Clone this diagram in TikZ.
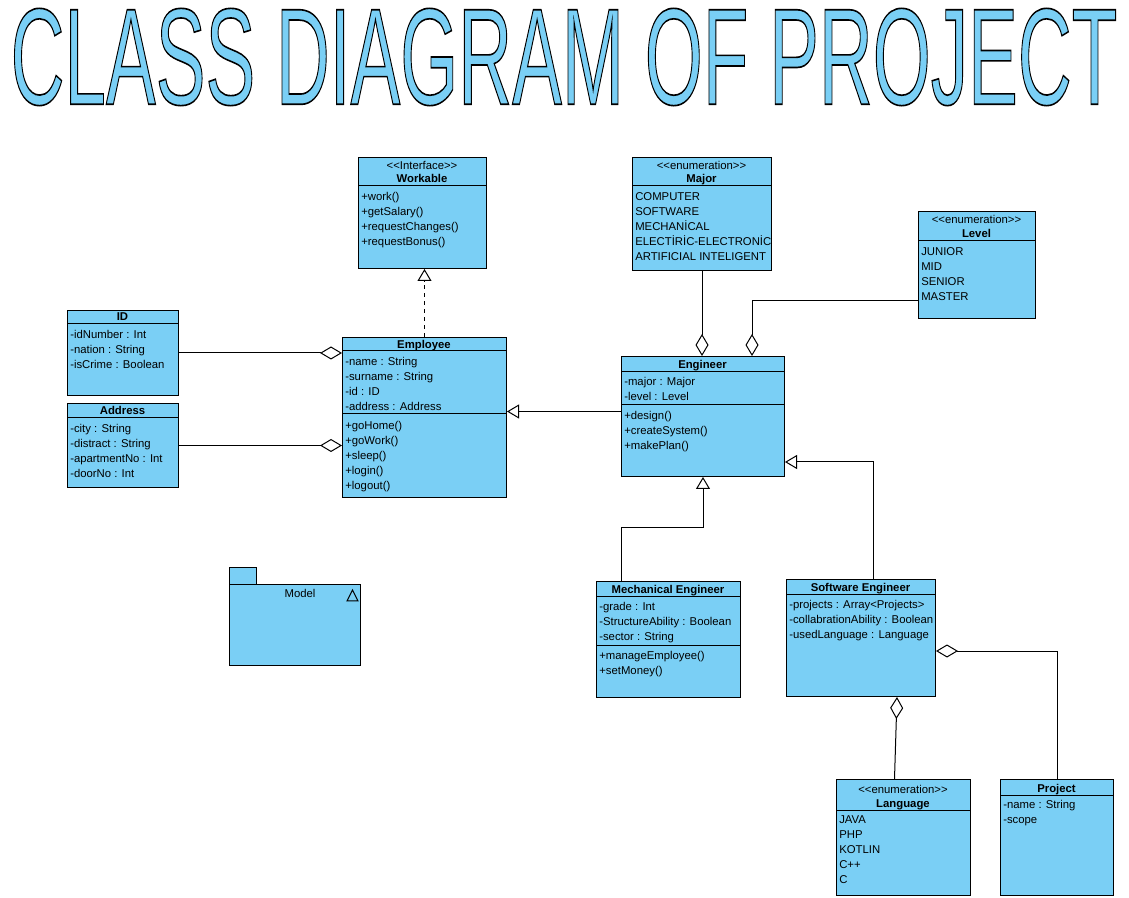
\documentclass[tikz,border=0pt]{standalone}
\usepackage{fontspec}
\setmainfont{Liberation Sans}
\usepackage{graphicx}
\usepackage{xcolor}
\definecolor{classblue}{HTML}{7ACFF5}
\usetikzlibrary{arrows.meta,positioning,calc}
% outlined letters for the big heading
\newcommand{\outlined}[1]{\special{pdf:literal direct 2 Tr 0 0 0 RG 0.9 w}#1\special{pdf:literal direct 0 Tr}}
% two angle brackets, kept apart so they do not turn into guillemets
\newcommand{\stl}{<\kern0pt<}
\newcommand{\str}{>\kern0pt>}

\begin{document}
\begin{tikzpicture}[x=0.75pt,y=-0.75pt,
  font=\fontsize{8.5}{11.25}\selectfont,
  umlbox/.style={draw,fill=classblue,line width=0.75pt,anchor=north west,inner sep=0pt},
  cname/.style={anchor=base,yshift=-0.75pt,font=\fontsize{8.5}{11.25}\selectfont\bfseries},
  stereo/.style={anchor=base,yshift=-1.5pt},
  members/.style={anchor=north west,yshift=-2.25pt,align=left,inner sep=0pt,execute at begin node=\strut},
  sep/.style={line width=0.75pt},
  aggr/.style={line width=0.75pt,-{Diamond[open,fill=white,length=16.5pt,width=9.75pt]}},
  gen/.style={line width=0.75pt,-{Triangle[open,fill=white,length=9pt,width=10.5pt]}},
  realize/.style={gen,dashed}]
  \useasboundingbox[fill=white] (0,0) rectangle (1129,898);

  % Heading
  \node[text=classblue,inner sep=0pt] (title) at (564,57)
    {\resizebox{830pt}{72pt}{\fontsize{75}{75}\selectfont\outlined{CLASS DIAGRAM OF PROJECT}}};

  % Workable
  \node[umlbox,minimum width=96pt,minimum height=83.25pt] (workable) at (358,157) {};
  \node[stereo] (workable-st) at (422,168) {\stl Interface\str};
  \node[cname] (workable-name) at (422,182) {Workable};
  \draw[sep] ($(workable.north west)+(0,29)$) -- ($(workable.north east)+(0,29)$);
  \node[members] (workable-ops) at (361,189.5) {+work()\\+getSalary()\\+requestChanges()\\+requestBonus()};

  % Major
  \node[umlbox,minimum width=104.25pt,minimum height=84.75pt] (major) at (632,157) {};
  \node[stereo] (major-st) at (701.5,168) {\stl enumeration\str};
  \node[cname] (major-name) at (701.5,182) {Major};
  \draw[sep] ($(major.north west)+(0,29)$) -- ($(major.north east)+(0,29)$);
  \node[members] (major-lits) at (635,189.5) {COMPUTER\\SOFTWARE\\MECHANİCAL\\ELECTİRİC-ELECTRONİC\\ARTIFICIAL INTELIGENT};

  % Level
  \node[umlbox,minimum width=87.75pt,minimum height=80.25pt] (level) at (918,211) {};
  \node[stereo] (level-st) at (976.5,222) {\stl enumeration\str};
  \node[cname] (level-name) at (976.5,237) {Level};
  \draw[sep] ($(level.north west)+(0,30)$) -- ($(level.north east)+(0,30)$);
  \node[members] (level-lits) at (921,244.5) {JUNIOR\\MID\\SENIOR\\MASTER};

  % ID
  \node[umlbox,minimum width=83.25pt,minimum height=63.75pt] (id) at (67,310) {};
  \node[cname] (id-name) at (122.5,320) {ID};
  \draw[sep] ($(id.north west)+(0,14)$) -- ($(id.north east)+(0,14)$);
  \node[members] (id-attrs) at (70,327.5) {-idNumber : Int\\-nation : String\\-isCrime : Boolean};

  % Address
  \node[umlbox,minimum width=83.25pt,minimum height=63pt] (address) at (67,403) {};
  \node[cname] (address-name) at (122.5,414) {Address};
  \draw[sep] ($(address.north west)+(0,15)$) -- ($(address.north east)+(0,15)$);
  \node[members] (address-attrs) at (70,421.5) {-city : String\\-distract : String\\-apartmentNo : Int\\-doorNo : Int};

  % Employee
  \node[umlbox,minimum width=123pt,minimum height=120pt] (employee) at (342,337) {};
  \node[cname] (employee-name) at (424,348) {Employee};
  \draw[sep] ($(employee.north west)+(0,14)$) -- ($(employee.north east)+(0,14)$);
  \node[members] (employee-attrs) at (345,354.5) {-name : String\\-surname : String\\-id : ID\\-address : Address};
  \draw[sep] ($(employee.north west)+(0,77)$) -- ($(employee.north east)+(0,77)$);
  \node[members] (employee-ops) at (345,418.5) {+goHome()\\+goWork()\\+sleep()\\+login()\\+logout()};

  % Engineer
  \node[umlbox,minimum width=122.25pt,minimum height=90pt] (engineer) at (621,356) {};
  \node[cname] (engineer-name) at (702.5,368) {Engineer};
  \draw[sep] ($(engineer.north west)+(0,16)$) -- ($(engineer.north east)+(0,16)$);
  \node[members] (engineer-attrs) at (624,374.5) {-major : Major\\-level : Level};
  \draw[sep] ($(engineer.north west)+(0,49)$) -- ($(engineer.north east)+(0,49)$);
  \node[members] (engineer-ops) at (624,408.5) {+design()\\+createSystem()\\+makePlan()};

  % Mechanical Engineer
  \node[umlbox,minimum width=108pt,minimum height=87pt] (mecheng) at (596,581) {};
  \node[cname] (mecheng-name) at (668,593) {Mechanical Engineer};
  \draw[sep] ($(mecheng.north west)+(0,16)$) -- ($(mecheng.north east)+(0,16)$);
  \node[members] (mecheng-attrs) at (599,599.5) {-grade : Int\\-StructureAbility : Boolean\\-sector : String};
  \draw[sep] ($(mecheng.north west)+(0,64)$) -- ($(mecheng.north east)+(0,64)$);
  \node[members] (mecheng-ops) at (599,648.5) {+manageEmployee()\\+setMoney()};

  % Software Engineer
  \node[umlbox,minimum width=111.75pt,minimum height=87.75pt] (softeng) at (786,579) {};
  \node[cname] (softeng-name) at (860.5,591) {Software Engineer};
  \draw[sep] ($(softeng.north west)+(0,16)$) -- ($(softeng.north east)+(0,16)$);
  \node[members] (softeng-attrs) at (789,597.5) {-projects : Array<Projects>\\-collabrationAbility : Boolean\\-usedLanguage : Language};

  % Language
  \node[umlbox,minimum width=100.5pt,minimum height=87pt] (language) at (836,779) {};
  \node[stereo] (language-st) at (903,791) {\stl enumeration\str};
  \node[cname] (language-name) at (903,806) {Language};
  \draw[sep] ($(language.north west)+(0,31)$) -- ($(language.north east)+(0,31)$);
  \node[members] (language-lits) at (839,812.5) {JAVA\\PHP\\KOTLIN\\C++\\C};

  % Project
  \node[umlbox,minimum width=84.75pt,minimum height=87pt] (project) at (1000,779) {};
  \node[cname] (project-name) at (1056.5,791) {Project};
  \draw[sep] ($(project.north west)+(0,16)$) -- ($(project.north east)+(0,16)$);
  \node[members] (project-attrs) at (1003,797.5) {-name : String\\-scope};

  % Model package
  \node[umlbox,minimum width=20.25pt,minimum height=12.75pt] (model-tab) at (229,567) {};
  \node[umlbox,minimum width=98.25pt,minimum height=60.75pt] (model) at (229,584) {};
  \node[anchor=base] (model-name) at (300,598) {Model};
  \draw[line width=0.75pt] (347,601) -- (358,601) -- (352.5,590) -- cycle;

  % Connectors
  \draw[realize] (employee.north) -- (employee.north |- workable.south);
  \draw[aggr] (id.east) -- (id.east -| employee.west);
  \draw[aggr] (address.east) -- (address.east -| employee.west);
  \coordinate (eng-in) at ($(engineer.west)+(0,-5)$);
  \draw[gen] (eng-in) -- (eng-in -| employee.east);
  \draw[aggr] (major.south) -- (major.south |- engineer.north);
  \coordinate (level-out) at ($(level.south west)+(0,-18)$);
  \coordinate (eng-lv) at ($(engineer.north)+(49,0)$);
  \draw[aggr] (level-out) -| (eng-lv);
  \coordinate (mech-out) at ($(mecheng.north west)+(25,0)$);
  \draw[gen] (mech-out) |- ($(engineer.south)+(0,51)$) -- (engineer.south);
  \coordinate (soft-out) at ($(softeng.north)+(12,0)$);
  \draw[gen] (soft-out) |- ($(engineer.south east)+(0,-15)$);
  \draw[aggr] ($(language.north)+(-9,0)$) -- ($(softeng.south)+(36,0)$);
  \draw[aggr] (project.north) |- ($(softeng.east)+(0,13)$);
\end{tikzpicture}
\end{document}
